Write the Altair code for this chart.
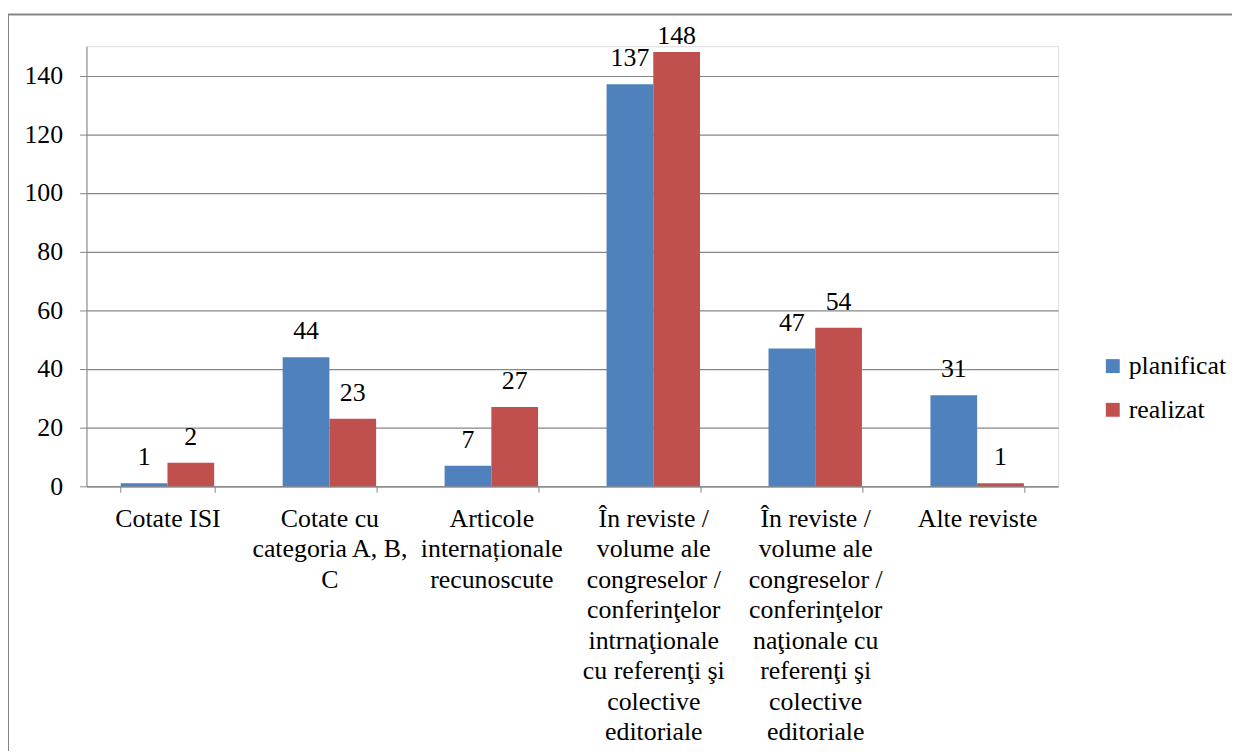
import altair as alt
import pandas as pd

categories = [
    "Cotate ISI",
    "Cotate cu\ncategoria A, B,\nC",
    "Articole\ninternaționale\nrecunoscute",
    "În reviste /\nvolume ale\ncongreselor /\nconferinţelor\nintrnaţionale\ncu referenţi şi\ncolective\neditoriale",
    "În reviste /\nvolume ale\ncongreselor /\nconferinţelor\nnaţionale cu\nreferenţi şi\ncolective\neditoriale",
    "Alte reviste",
]
series = ["planificat", "realizat"]
planificat = [1, 44, 7, 137, 47, 31]
realizat = [8, 23, 27, 148, 54, 1]
planificat_labels = ["1", "44", "7", "137", "47", "31"]
realizat_labels = ["2", "23", "27", "148", "54", "1"]
y_ticks = [0, 20, 40, 60, 80, 100, 120, 140]
colors = ["#4F81BD", "#C0504D"]

rows = []
for i, c in enumerate(categories):
    rows.append({"cat": c, "serie": "planificat", "value": planificat[i], "label": planificat_labels[i]})
    rows.append({"cat": c, "serie": "realizat", "value": realizat[i], "label": realizat_labels[i]})
df = pd.DataFrame(rows)

FONT = "Times New Roman, Liberation Serif, DejaVu Serif, serif"
GRAY = "#868686"

xenc = alt.X(
    "cat:N",
    sort=categories,
    title=None,
    scale=alt.Scale(paddingInner=0.423, paddingOuter=0.2115),
    axis=alt.Axis(
        labelAngle=0,
        labelExpr="isValid(datum.value) ? split(datum.value, '\\n') : ''",
        labelLineHeight=30.7,
        labelFontSize=26,
        labelFont=FONT,
        labelColor="black",
        labelBaseline="top",
        labelPadding=13,
        labelLimit=300,
        tickBand="extent",
        tickSize=6,
        tickColor=GRAY,
        domainColor=GRAY,
        grid=False,
    ),
)
xoff = alt.XOffset("serie:N", sort=series)

bars = alt.Chart(df).mark_bar().encode(
    x=xenc,
    xOffset=xoff,
    y=alt.Y(
        "value:Q",
        title=None,
        scale=alt.Scale(domain=[0, 150], nice=False),
        axis=alt.Axis(
            values=y_ticks,
            labelFontSize=26,
            labelFont=FONT,
            labelColor="black",
            labelPadding=17,
            tickSize=7,
            tickColor=GRAY,
            domainColor=GRAY,
            gridColor=GRAY,
            gridWidth=1.2,
        ),
    ),
    color=alt.Color(
        "serie:N",
        sort=series,
        scale=alt.Scale(domain=series, range=colors),
        legend=alt.Legend(
            title=None,
            orient="none",
            legendX=1020,
            legendY=309,
            symbolType="square",
            symbolSize=196,
            symbolStrokeWidth=0,
            labelFontSize=26,
            labelFont=FONT,
            labelColor="black",
            labelOffset=3,
            rowPadding=18,
        ),
    ),
)

texts = alt.Chart(df).transform_calculate(
    ly="min(datum.value, 144.5)"
).mark_text(
    font=FONT, fontSize=26, color="black", baseline="middle", dy=-26
).encode(
    x=alt.X("cat:N", sort=categories),
    xOffset=xoff,
    y=alt.Y("ly:Q"),
    text="label:N",
)

frame = alt.Chart(pd.DataFrame({"a": [0]})).mark_rect(
    fill=None, stroke=GRAY, strokeWidth=2
).encode(
    x=alt.value(-79), x2=alt.value(1170), y=alt.value(-32), y2=alt.value(730)
)

chart = alt.layer(frame, bars, texts).properties(
    width=978,
    height=443,
    autosize=alt.AutoSizeParams(type="none"),
    padding={"left": 79, "top": 36, "right": 175, "bottom": 264},
).configure_view(stroke=None).configure(background="white", font=FONT)

chart.save("out.html", embed_options={"renderer": "svg", "actions": False})
